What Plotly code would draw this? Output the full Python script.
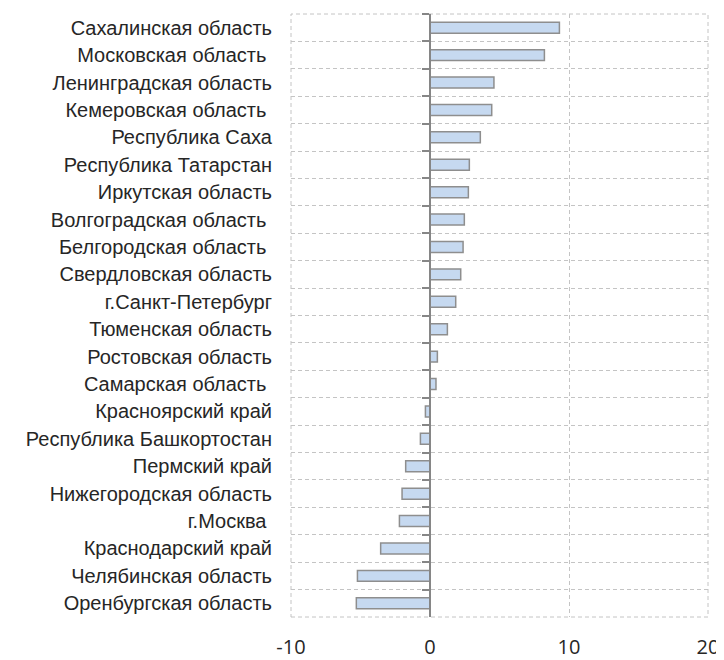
import plotly.graph_objects as go

regions = [
    "Сахалинская область",
    "Московская область\u00a0",
    "Ленинградская область",
    "Кемеровская область\u00a0",
    "Республика Саха",
    "Республика Татарстан",
    "Иркутская область",
    "Волгоградская область\u00a0",
    "Белгородская область\u00a0",
    "Свердловская область",
    "г.Санкт-Петербург",
    "Тюменская область",
    "Ростовская область",
    "Самарская область\u00a0",
    "Красноярский край",
    "Республика Башкортостан",
    "Пермский край",
    "Нижегородская область",
    "г.Москва\u00a0",
    "Краснодарский край",
    "Челябинская область",
    "Оренбургская область",
]
values = [9.31, 8.23, 4.60, 4.44, 3.62, 2.83, 2.76, 2.47, 2.38, 2.21, 1.85, 1.25,
          0.53, 0.43, -0.33, -0.69, -1.75, -2.01, -2.20, -3.55, -5.22, -5.30]
x_ticks = [-10, 0, 10, 20]
x_tick_labels = ["-10", "0", "10", "20"]

GRID = "#c4c4c4"
DASH = "4px,3px"

fig = go.Figure()
fig.add_trace(go.Bar(
    y=regions, x=values, orientation="h",
    marker=dict(color="#c6d9f0", line=dict(color="#8e8e8e", width=1.5)),
    width=0.4, hoverinfo="skip", showlegend=False,
))
# invisible trace to carry the axis drawn through zero
fig.add_trace(go.Bar(
    y=regions, x=[0] * len(regions), orientation="h", yaxis="y2",
    marker=dict(color="rgba(0,0,0,0)"), hoverinfo="skip", showlegend=False,
))

fig.update_layout(
    width=716, height=652,
    margin=dict(l=283, r=16, t=6, b=43, autoexpand=False),
    plot_bgcolor="white", paper_bgcolor="white",
    font=dict(family="Liberation Sans, Arial, sans-serif", color="#262626"),
    xaxis=dict(
        range=[-10, 20], tickvals=x_ticks, ticktext=x_tick_labels,
        showgrid=True, gridcolor=GRID, griddash=DASH, gridwidth=1,
        zeroline=False, showline=False, automargin=False,
        tickfont=dict(size=20, family="Open Sans, Liberation Sans, sans-serif", color="#262626"),
        ticks="", ticklabelstandoff=16,
    ),
    yaxis=dict(
        categoryorder="array", categoryarray=regions, autorange="reversed",
        type="category", automargin=False,
        tickson="boundaries", showgrid=True, gridcolor=GRID, griddash=DASH,
        ticks="", showline=False, zeroline=False,
        tickfont=dict(size=20, color="#262626"), ticklabelstandoff=18,
    ),
    yaxis2=dict(
        overlaying="y", anchor="free", position=1 / 3, side="left",
        matches="y", type="category", automargin=False,
        tickson="boundaries", ticks="outside", ticklen=7, tickcolor="#868686",
        tickwidth=1.5,
        showline=True, linecolor="#868686", linewidth=1.5,
        showticklabels=False, showgrid=False, zeroline=False,
    ),
    shapes=[dict(
        type="rect", xref="paper", yref="paper", x0=0, x1=1, y0=0, y1=1,
        line=dict(color=GRID, width=1, dash=DASH), layer="below",
    )],
)

fig.write_html("out.html")
